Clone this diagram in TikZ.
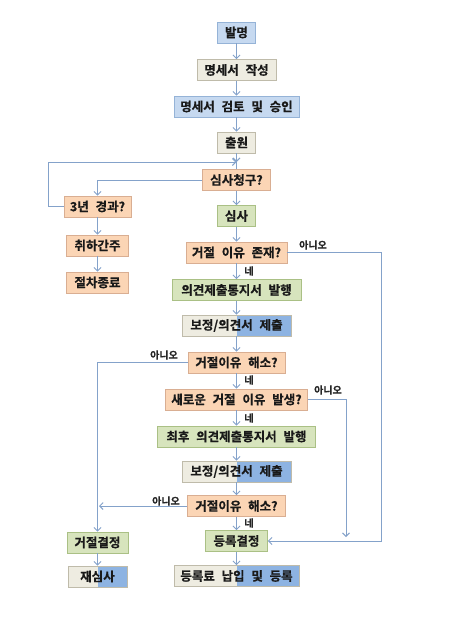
\documentclass[tikz,border=0pt]{standalone}
\usepackage{fontspec}
\newfontfamily\kr{Noto Sans CJK KR}[BoldFont={Noto Sans CJK KR Bold}, BoldFeatures={FakeBold=0.6}, WordSpace={2.4}]
\usetikzlibrary{arrows.meta}
\definecolor{lblue}{HTML}{C6D9F0}
\definecolor{lbluedraw}{HTML}{95B3D7}
\definecolor{beige}{HTML}{EEECE1}
\definecolor{beigedraw}{HTML}{BFBBAA}
\definecolor{peach}{HTML}{FBD5B5}
\definecolor{peachdraw}{HTML}{D9AE92}
\definecolor{lgreen}{HTML}{D7E4BD}
\definecolor{lgreendraw}{HTML}{AAC085}
\definecolor{dblue}{HTML}{8DB3E2}
\definecolor{dbluedraw}{HTML}{7A9CC8}
\definecolor{conn}{HTML}{84A2CA}
\tikzset{
  box/.style={draw, line width=0.8pt, minimum height=21pt, inner sep=0pt,
    font=\kr\bfseries\fontsize{12.5}{14}\selectfont, text=black!90},
  bluebox/.style={box, fill=lblue, draw=lbluedraw},
  beigebox/.style={box, fill=beige, draw=beigedraw},
  peachbox/.style={box, fill=peach, draw=peachdraw},
  greenbox/.style={box, fill=lgreen, draw=lgreendraw},
  splitbox/.style={box, draw=beigedraw, path picture={
      \fill[beige] (path picture bounding box.south west) rectangle (path picture bounding box.north);
      \fill[dblue] (path picture bounding box.north) rectangle (path picture bounding box.south east);}},
  conline/.style={draw=conn, line width=0.9pt},
  arr/.style={conline, -{Straight Barb[length=3.5pt,width=7pt]}},
  lbl/.style={font=\kr\bfseries\fontsize{10}{12}\selectfont, text=black!85, inner sep=0pt}
}
\begin{document}
\begin{tikzpicture}[x=1pt,y=-1pt]
\useasboundingbox (0,0) rectangle (473,630);
\fill[white] (0,0) rectangle (473,630);
% main column
\node[bluebox, minimum width=38pt] (a1) at (236.5,32.5) {발명};
\node[beigebox, minimum width=79pt] (a2) at (236.5,70) {명세서 작성};
\node[bluebox, minimum width=125pt] (a3) at (236.5,106.5) {명세서 검토 및 승인};
\node[beigebox, minimum width=38pt] (a4) at (236.5,142.5) {출원};
\coordinate (j) at (236.5,162);
\node[peachbox, minimum width=68pt] (a5) at (236.5,180) {심사청구?};
\node[greenbox, minimum width=38pt] (a6) at (236.5,216) {심사};
\node[peachbox, minimum width=101pt] (a7) at (236.5,252.5) {거절 이유 존재?};
\node[greenbox, minimum width=129pt] (a8) at (236.5,290) {의견제출통지서 발행};
\node[splitbox, minimum width=109pt] (a9) at (236.5,325.5) {보정/의견서 제출};
\node[peachbox, minimum width=97pt] (a10) at (236.5,362.5) {거절이유 해소?};
\node[peachbox, minimum width=142pt] (a11) at (236.5,399.5) {새로운 거절 이유 발생?};
\node[greenbox, minimum width=158pt] (a12) at (236.5,436.5) {최후 의견제출통지서 발행};
\node[splitbox, minimum width=109pt] (a13) at (236.5,471.5) {보정/의견서 제출};
\node[peachbox, minimum width=98pt] (a14) at (236.5,506) {거절이유 해소?};
\node[greenbox, minimum width=62pt] (a15) at (236.5,541) {등록결정};
\node[splitbox, minimum width=125pt] (a16) at (236.5,576) {등록료 납입 및 등록};
% left column
\node[peachbox, minimum width=67pt] (b1) at (97.5,206.5) {3년 경과?};
\node[peachbox, minimum width=62pt] (b2) at (97.5,245.5) {취하간주};
\node[peachbox, minimum width=62pt] (b3) at (97.5,282.5) {절차종료};
\node[greenbox, minimum width=61pt] (b4) at (97.5,542.5) {거절결정};
\node[splitbox, minimum width=59pt] (b5) at (97.5,576.5) {재심사};
% free ends
\coordinate (r1) at (381,252.5);
\coordinate (r2) at (346,399.5);
\coordinate (r2e) at (346,537);
\coordinate (l1) at (97.5,362.5);
\coordinate (l2) at (99,506);
\coordinate (lp) at (48,206.5);
% main arrows
\draw[arr] (a1) -- (a2);
\draw[arr] (a2) -- (a3);
\draw[arr] (a3) -- (a4);
\draw[arr] (a4) -- (j);
\draw[conline] (j) -- (a5);
\draw[arr] (a5) -- (a6);
\draw[arr] (a6) -- (a7);
\draw[arr] (a7) -- (a8);
\draw[arr] (a8) -- (a9);
\draw[arr] (a9) -- (a10);
\draw[arr] (a10) -- (a11);
\draw[arr] (a11) -- (a12);
\draw[arr] (a12) -- (a13);
\draw[arr] (a13) -- (a14);
\draw[arr] (a14) -- (a15);
\draw[arr] (a15) -- (a16);
% left side
\draw[arr] (a5.west) -| (b1.north);
\draw[arr] (b1.west) -- (lp) |- (j);
\draw[arr] (b1) -- (b2);
\draw[arr] (b2) -- (b3);
\draw[arr] (a10.west) -- (l1) -- (b4.north);
\draw[arr] (a14.west) -- (l2);
\draw[arr] (b4) -- (b5);
% right side
\draw[arr] (a7.east) -- (r1) |- (a15.east);
\draw[arr] (a11.east) -- (r2) -- (r2e);
% labels
\node[lbl] (n1) at (313,245) {아니오};
\node[lbl] (n2) at (164,355) {아니오};
\node[lbl] (n3) at (328,390) {아니오};
\node[lbl] (n4) at (166,501) {아니오};
\node[lbl] (y1) at (249,271) {네};
\node[lbl] (y2) at (249,380) {네};
\node[lbl] (y3) at (249,418) {네};
\node[lbl] (y4) at (249,523) {네};
\end{tikzpicture}
\end{document}
